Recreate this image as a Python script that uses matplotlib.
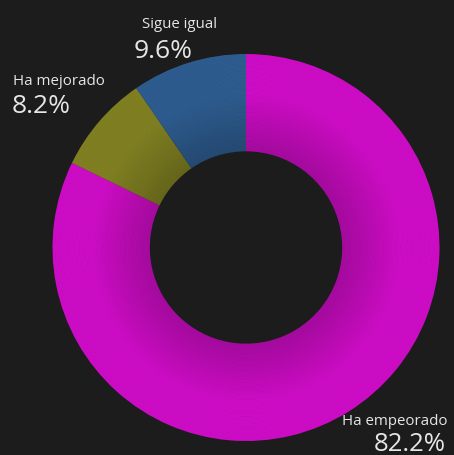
import matplotlib
matplotlib.use("Agg")
import matplotlib.pyplot as plt
import numpy as np
from matplotlib.colors import to_rgb

labels = ["Ha empeorado", "Ha mejorado", "Sigue igual"]
values = [82.2, 8.2, 9.6]
pct_labels = ["82.2%", "8.2%", "9.6%"]
colors = ["#cc0cc4", "#7f7f22", "#2d5b8e"]

BG = "#1c1c1c"
TXT = "#e6e6e6"
W, H = 454, 456
cx, cy, R = 246.0, 248.5, 193.5

fig = plt.figure(figsize=(W / 100, H / 100), dpi=100, facecolor=BG)
ax = fig.add_axes([0, 0, 1, 1])
ax.set_facecolor(BG)
ax.axis("off")

# radial shading: concentric rings, darker toward the inner edge
inner = 0.5
n = 40
edges = np.linspace(inner, 1.0, n + 1)
for i in range(n):
    r_out = edges[i + 1]
    t = (edges[i] + edges[i + 1]) / 2
    s = np.clip((t - inner) / 0.3, 0, 1)
    f = 0.8 + 0.2 * s
    cols = [tuple(np.array(to_rgb(c)) * f) for c in colors]
    ax.pie(values, radius=r_out, startangle=90, counterclock=False,
           colors=cols, wedgeprops=dict(width=r_out - edges[i] + 0.003,
                                         linewidth=0, antialiased=True))
ax.set_xlim(-cx / R, (W - cx) / R)
ax.set_ylim(-(H - cy) / R, cy / R)
ax.set_aspect("auto")

font = "Open Sans"

def px(x, y):
    return ((x - cx) / R, (cy - y) / R)

LS, PS = 10.8, 19
# Sigue igual
ax.text(*px(142, 28), labels[2], ha="left", va="baseline", fontsize=LS, color=TXT, family=font)
ax.text(*px(134, 58), pct_labels[2], ha="left", va="baseline", fontsize=PS, color=TXT, family=font)
# Ha mejorado
ax.text(*px(13, 85), labels[1], ha="left", va="baseline", fontsize=LS, color=TXT, family=font)
ax.text(*px(12, 113), pct_labels[1], ha="left", va="baseline", fontsize=PS, color=TXT, family=font)
# Ha empeorado
ax.text(*px(448, 425), labels[0], ha="right", va="baseline", fontsize=LS, color=TXT, family=font)
ax.text(*px(446, 451), pct_labels[0], ha="right", va="baseline", fontsize=18.5, color=TXT, family=font)

fig.savefig("out.png", dpi=100, facecolor=BG)
